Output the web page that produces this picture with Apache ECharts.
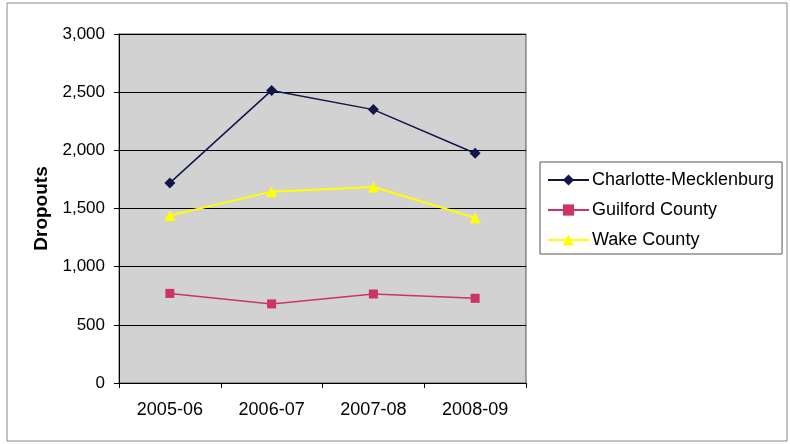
<!DOCTYPE html>
<html><head><meta charset="utf-8">
<script src="https://cdn.jsdelivr.net/npm/echarts@6/dist/echarts.min.js"></script>
<style>html,body{margin:0;padding:0;background:#fff}#c{width:790px;height:444px}</style>
</head><body><div id="c"></div>
<script>
const categories = ['2005-06','2006-07','2007-08','2008-09'];
const charlotte = [1720, 2515, 2350, 1975];
const guilford = [770, 680, 765, 728];
const wake = [1440, 1645, 1685, 1420];
const yTicks = {min:0, max:3000, interval:500};

const chart = echarts.init(document.getElementById('c'));
const font = 'Liberation Sans, Arial, sans-serif';
chart.setOption({
  animation:false,
  backgroundColor:'#fff',
  graphic:[{type:'rect',shape:{x:7,y:3,width:780,height:438},style:{fill:'none',stroke:'#888',lineWidth:1}}],
  grid:{left:119,right:264,top:34,bottom:61,show:true,backgroundColor:'#d2d2d2',borderColor:'#555',borderWidth:1},
  legend:{
    orient:'vertical',left:540,top:162,
    padding:[9,8,5,7],itemGap:12,itemWidth:41,itemHeight:14,
    borderColor:'#555',borderWidth:1,backgroundColor:'#fff',
    textStyle:{fontFamily:font,fontSize:18,color:'#000',padding:[0,0,0,-2]},
    data:['Charlotte-Mecklenburg','Guilford County','Wake County']
  },
  xAxis:{type:'category',data:categories,boundaryGap:true,
    axisLine:{lineStyle:{color:'#000'}},
    axisTick:{show:true,length:5,lineStyle:{color:'#000'}},
    axisLabel:{fontFamily:font,fontSize:18,color:'#000',margin:18}},
  yAxis:{type:'value',min:yTicks.min,max:yTicks.max,interval:yTicks.interval,
    name:'Dropouts',nameLocation:'middle',nameGap:68,
    nameTextStyle:{fontFamily:font,fontSize:19,fontWeight:'bold',color:'#000'},
    axisLine:{show:true,lineStyle:{color:'#000'}},
    axisTick:{show:true,length:5,lineStyle:{color:'#000'}},
    splitLine:{lineStyle:{color:'#000',width:1}},
    axisLabel:{fontFamily:font,fontSize:17,color:'#000',margin:14,
      formatter:v=>v.toLocaleString('en-US')}},
  series:[
    {name:'Charlotte-Mecklenburg',type:'line',data:charlotte,symbol:'diamond',symbolSize:11,
     itemStyle:{color:'#10164a'},lineStyle:{color:'#10164a',width:1.5}},
    {name:'Guilford County',type:'line',data:guilford,symbol:'rect',symbolSize:9,
     itemStyle:{color:'#cc3366'},lineStyle:{color:'#cc3366',width:1.5}},
    {name:'Wake County',type:'line',data:wake,symbol:'triangle',symbolSize:11,
     itemStyle:{color:'#ffff00'},lineStyle:{color:'#ffff00',width:2}}
  ]
});
</script></body></html>
